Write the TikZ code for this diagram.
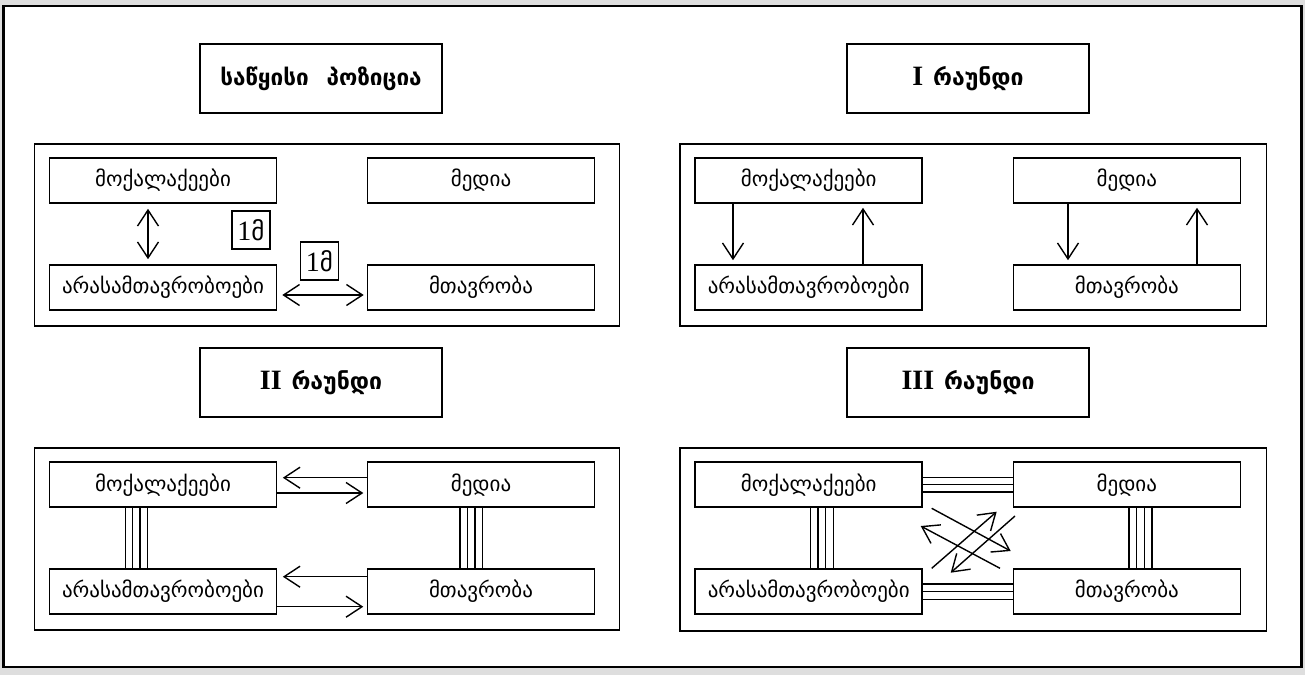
\documentclass[tikz,border=0pt]{standalone}
\usepackage{fontspec}
\usetikzlibrary{arrows.meta}
\newfontfamily\geo{DejaVu Sans}
\newfontfamily\romf{Liberation Serif}
\definecolor{bggray}{HTML}{DEDEDE}
\newcommand{\tagtext}{\romf\fontsize{28}{30}\selectfont 1\geo\fontsize{25}{28}\selectfont მ}
\newcommand{\roundword}{\geo\bfseries\fontsize{23}{26}\selectfont რაუნდი}
\begin{document}
\begin{tikzpicture}[x=1pt,y=-1pt,
  actor/.style={draw,line width=1.6pt,minimum width=227pt,minimum height=45pt,inner sep=0pt,
    font=\geo\fontsize{21}{24}\selectfont},
  titlebox/.style={draw,line width=1.6pt,minimum width=242pt,minimum height=69pt,inner sep=0pt,
    font=\geo\bfseries\fontsize{22.5}{26}\selectfont},
  panel/.style={draw,line width=1.6pt},
  tag/.style={draw,line width=1.4pt,minimum width=38pt,minimum height=38pt,inner sep=0pt},
  barb/.style={line width=1.4pt,-{Straight Barb[length=16pt,width=21pt]}},
  dbarb/.style={line width=1.4pt,{Straight Barb[length=16pt,width=21pt]}-{Straight Barb[length=16pt,width=21pt]}},
  link/.style={line width=1.2pt}
]
\fill[bggray] (0,0) rectangle (1305,675);
\draw[fill=white,line width=2.5pt] (3.5,6) rectangle (1301.5,667);

% ---------- panel 1: starting position
\node[titlebox] (t1) at (321,78.5) {საწყისი\hspace{0.8em}პოზიცია};
\draw[panel] (34.5,144) rectangle (619.5,326);
\node[actor] (m1) at (163,180.5) {მოქალაქეები};
\node[actor] (d1) at (481,180.5) {მედია};
\node[actor] (a1) at (163,287.5) {არასამთავრობოები};
\node[actor] (g1) at (481,287.5) {მთავრობა};
\draw[dbarb,shorten <=5pt,shorten >=5pt] ([xshift=-15pt]m1.south) -- ([xshift=-15pt]a1.north);
\draw[dbarb,shorten <=5pt,shorten >=3pt] ([yshift=-7.5pt]a1.east) -- ([yshift=-7.5pt]g1.west);
\node[tag] (l1) at (251,230) {\tagtext};
\node[tag] (l2) at (319.5,261) {\tagtext};

% ---------- panel 2: round I
\node[titlebox] (t2) at (968,78.5) {\romf\bfseries\fontsize{28}{30}\selectfont I\hspace{0.35em}\roundword};
\draw[panel] (680,144) rectangle (1266.6,326);
\node[actor] (m2) at (808.7,180.5) {მოქალაქეები};
\node[actor] (d2) at (1126.8,180.5) {მედია};
\node[actor] (a2) at (808.7,287.5) {არასამთავრობოები};
\node[actor] (g2) at (1126.8,287.5) {მთავრობა};
\draw[barb,shorten >=4pt] ([xshift=-75.7pt]m2.south) -- ([xshift=-75.7pt]a2.north);
\draw[barb,shorten >=4pt] ([xshift=54.3pt]a2.north) -- ([xshift=54.3pt]m2.south);
\draw[barb,shorten >=4pt] ([xshift=-58.8pt]d2.south) -- ([xshift=-58.8pt]g2.north);
\draw[barb,shorten >=4pt] ([xshift=70.2pt]g2.north) -- ([xshift=70.2pt]d2.south);

% ---------- panel 3: round II
\node[titlebox] (t3) at (321,382.5) {\romf\bfseries\fontsize{28}{30}\selectfont II\hspace{0.35em}\roundword};
\draw[panel] (34.5,447.7) rectangle (619.5,630);
\node[actor] (m3) at (163,484.7) {მოქალაქეები};
\node[actor] (d3) at (481,484.7) {მედია};
\node[actor] (a3) at (163,591.5) {არასამთავრობოები};
\node[actor] (g3) at (481,591.5) {მთავრობა};
\draw[barb,shorten >=5.5pt] ([yshift=7pt]d3.west) -- ([yshift=7pt]m3.east);
\draw[barb,shorten >=3.4pt] ([yshift=-8.3pt]m3.east) -- ([yshift=-8.3pt]d3.west);
\draw[barb,shorten >=5.5pt] ([yshift=14.8pt]g3.west) -- ([yshift=14.8pt]a3.east);
\draw[barb,shorten >=3.4pt] ([yshift=-15.2pt]a3.east) -- ([yshift=-15.2pt]g3.west);
\foreach \s in {-37.3,-30.3,-23,-15.3}
  \draw[link] ([xshift=\s pt]m3.south) -- ([xshift=\s pt]a3.north);
\foreach \s in {-21,-13.7,-6,1.3}
  \draw[link] ([xshift=\s pt]d3.south) -- ([xshift=\s pt]g3.north);

% ---------- panel 4: round III
\node[titlebox] (t4) at (968,382.5) {\romf\bfseries\fontsize{28}{30}\selectfont III\hspace{0.35em}\roundword};
\draw[panel] (680,448) rectangle (1266.6,631);
\node[actor] (m4) at (808.7,484.7) {მოქალაქეები};
\node[actor] (d4) at (1126.8,484.7) {მედია};
\node[actor] (a4) at (808.7,591.5) {არასამთავრობოები};
\node[actor] (g4) at (1126.8,591.5) {მთავრობა};
\foreach \s in {7.3,0,-7.3}
  \draw[link] ([yshift=\s pt]m4.east) -- ([yshift=\s pt]d4.west);
\foreach \s in {7.5,0,-7.8}
  \draw[link] ([yshift=\s pt]a4.east) -- ([yshift=\s pt]g4.west);
\foreach \s in {1.7,9.3,16.9,24.5}
  \draw[link] ([xshift=\s pt]m4.south) -- ([xshift=\s pt]a4.north);
\foreach \s in {2.2,9.9,17.5,25.2}
  \draw[link] ([xshift=\s pt]d4.south) -- ([xshift=\s pt]g4.north);
\coordinate (pA) at (931.7,508.3); \coordinate (qA) at (1010.7,551);
\coordinate (pB) at (1000,568.3);  \coordinate (qB) at (920.7,526);
\coordinate (pC) at (931.7,568.3); \coordinate (qC) at (996.7,511.7);
\coordinate (pD) at (1015,516);    \coordinate (qD) at (950.7,572.7);
\draw[barb] (pA) -- (qA);
\draw[barb] (pB) -- (qB);
\draw[barb] (pC) -- (qC);
\draw[barb] (pD) -- (qD);
\end{tikzpicture}
\end{document}
